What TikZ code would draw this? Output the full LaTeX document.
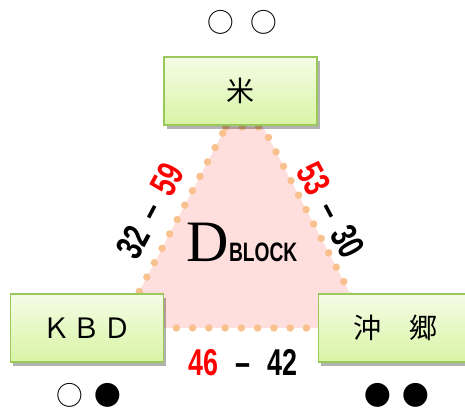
\documentclass[tikz,border=0pt]{standalone}
\usepackage{fontspec}
\usepackage{xcolor}
\usepackage{tikz}
\usetikzlibrary{positioning, shadows}
\setmainfont{Liberation Sans}
\newfontfamily\jpfont{Noto Sans CJK JP}
\newfontfamily\scorefont[FakeStretch=0.72]{Liberation Sans Bold}
\newfontfamily\bigDfont{Liberation Serif}
\definecolor{boxtop}{HTML}{F5FCE6}
\definecolor{boxbottom}{HTML}{D8F4A4}
\definecolor{boxline}{HTML}{9BC85A}
\definecolor{dotorange}{HTML}{F9C18E}
\definecolor{blockpink}{HTML}{FFDEDE}
\definecolor{winred}{HTML}{FF0000}

\begin{document}
\begin{tikzpicture}[
    x=0.75pt, y=-0.75pt,
    team/.style={rectangle, draw=boxline, line width=1.1pt, top color=boxtop, bottom color=boxbottom, minimum width=115pt, minimum height=51pt, inner sep=0pt, font=\jpfont\fontsize{21}{21}\selectfont, drop shadow={shadow xshift=2pt, shadow yshift=-3pt, fill=black, opacity=0.3}},
    marks/.style={font=\jpfont\fontsize{20}{20}\selectfont, inner sep=0pt},
    score/.style={font=\scorefont\fontsize{28}{28}\selectfont, inner sep=0pt},
    edgedots/.style={draw=dotorange, line width=5.6pt, line cap=round, dash pattern=on 0pt off 12.2pt}
]

\useasboundingbox (0,0) rectangle (465,413);

% Block area
\coordinate (tl) at (226,127);
\coordinate (tr) at (263,127);
\coordinate (br) at (368,328);
\coordinate (bl) at (120,328);
\fill[blockpink] (tl) -- (tr) -- (br) -- (bl) -- cycle;
\draw[edgedots] (tl) -- (tr) -- (br) -- (bl) -- cycle;

\node[anchor=base, inner sep=0pt] (block) at (242,262) {{\bigDfont\fontsize{44}{44}\selectfont D}{\scorefont\fontsize{20}{20}\selectfont BLOCK}};

% Teams
\node[team] (rice) at (240.5,91) {米};
\node[team] (kbd) at (87,328) {Ｋ\hspace{2pt}Ｂ\hspace{2pt}Ｄ};
\node[team] (okigo) at (395,328) {沖　郷};

% Results
\node[marks] (ricemarks) at (242,22) {○\hspace{0.6em}○};
\node[marks] (kbdmarks) at (89,395) {○\hspace{0.45em}●};
\node[marks] (okigomarks) at (397,395) {●\hspace{0.45em}●};

% Scores
\node[score, rotate=62] (leftscore) at (150,211) {32\hspace{10pt}–\hspace{10pt}\textcolor{winred}{59}};
\node[score, rotate=-62] (rightscore) at (331,210) {\textcolor{winred}{53}\hspace{10pt}–\hspace{10pt}30};
\node[score] (bottomscore) at (243,363) {\textcolor{winred}{46}\hspace{13pt}–\hspace{13pt}42};

\end{tikzpicture}
\end{document}
